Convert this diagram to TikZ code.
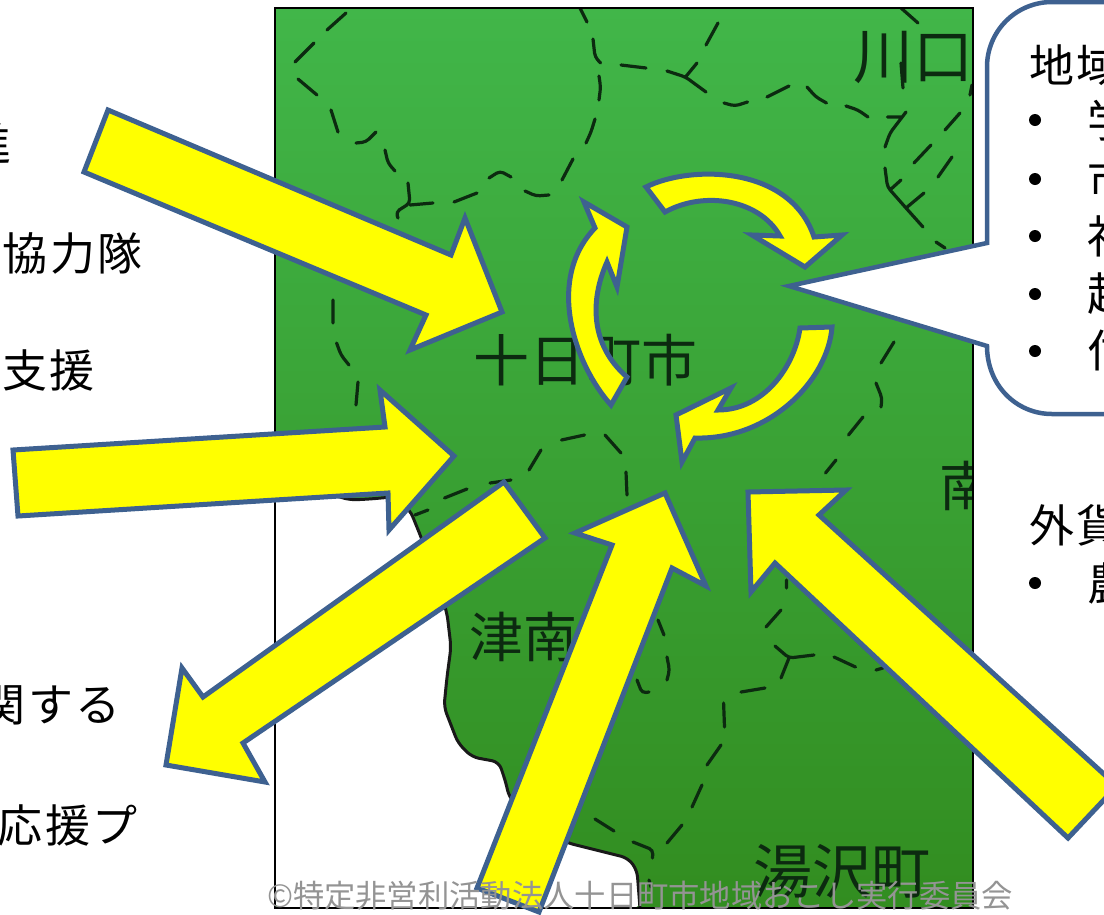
\documentclass[tikz,border=0pt]{standalone}
\usepackage{fontspec}
\setmainfont{Noto Sans CJK JP}
\newfontfamily\widejp[LetterSpace=6]{Noto Sans CJK JP}
\usepackage{xcolor}
\definecolor{maptop}{HTML}{41B649}
\definecolor{mapbot}{HTML}{328D20}
\definecolor{arrowedge}{HTML}{3E6190}
\definecolor{arrowfill}{RGB}{255,255,0}
\definecolor{mapink}{HTML}{0C2A10}
\tikzset{
x=1pt, y=-1pt,
txt/.style = {inner sep=0pt, text=black, font=\widejp\fontsize{45}{50}\selectfont},% black text
maplbl/.style = {inner sep=0pt, text=mapink},% place names on the map
bulletdot/.style = {circle, fill=black, inner sep=0pt, minimum size=12pt},
bigarrow/.style = {draw=arrowedge, fill=arrowfill, line width=5pt, miter limit=8},% yellow arrows
balloon/.style = {draw=arrowedge, fill=white, line width=4.5pt, miter limit=12},
citybound/.style = {draw=mapink, line width=3.2pt, line cap=round, rounded corners=4pt},
coast/.style = {draw=black!90, line width=3pt, line join=round, rounded corners=7pt}
}
\begin{document}
\begin{tikzpicture}
	\useasboundingbox (0,0) rectangle (1104,914);
	% the map
	\begin{scope}
		\clip (275,8) rectangle (973,908);
		\shade[top color=maptop, bottom color=mapbot] (275,8) rectangle (973,908);
		\fill[white, rounded corners=7pt] (275,492) -- (330,494) -- (350,500) -- (370,499) -- (392,497) -- (410,510) -- (421,537) -- (436,580) -- (447,613) -- (451,647) -- (447,677) -- (444,707) -- (458,743) -- (472,757) -- (499,762) -- (506,783) -- (509,797) -- (540,830) -- (568,843) -- (628,858) -- (637,870) -- (640,908) -- (275,908) -- cycle;
		\draw[coast] (330,494) -- (350,500) -- (370,499) -- (392,497) -- (410,510) -- (421,537) -- (436,580) -- (447,613) -- (451,647) -- (447,677) -- (444,707) -- (458,743) -- (472,757) -- (499,762) -- (506,783) -- (509,797) -- (540,830) -- (568,843) -- (628,858) -- (637,870) -- (640,908);
		\node[maplbl, font=\fontsize{56}{60}\selectfont] (tokamachi) at (585,360) {十日町市};
		\node[maplbl, font=\fontsize{60}{60}\selectfont] (kawaguchi) at (913,57) {川口};
		\node[maplbl, font=\fontsize{54}{60}\selectfont] (minami) at (966,486) {南};
		\node[maplbl, font=\fontsize{54}{60}\selectfont] (tsunan) at (523,637) {津南};
		\node[maplbl, font=\fontsize{59}{60}\selectfont] (yuzawa) at (842,871) {湯沢町};
		% dashed boundaries, top part
		\draw[citybound] (327,30) -- (346,13) (295,62) -- (314,43) (298,79) -- (317,95) (331,110) -- (338,132)
			(356,143) -- (366,142) -- (376,132) (385,150) -- (388,163) -- (395,171)
			(408,183) -- (410,203) -- (396,212) -- (398,218) (410,205) -- (433,203)
			(454,202) -- (477,193) (489,178) -- (500,171) -- (511,177) (525,191) -- (536,196) -- (549,195)
			(562,180) -- (573,159) (586,143) -- (591,132) -- (595,119) (599,100) -- (600.6,87) -- (599,76)
			(593,39) -- (595,57) -- (600.6,63) (580,8) -- (587,22) (621,65) -- (646,68)
			(667,71) -- (685.5,77) -- (706,92) (685.5,77) -- (697,63) (706,45) -- (718,23)
			(724,103) -- (735,106) -- (747.5,102) (767,97) -- (789,86) (807,87) -- (816,97) -- (826.5,103)
			(846,106) -- (858,110) -- (868,117) (885,147) -- (890,133) -- (906,112) (887.5,117) -- (901,117)
			(945,130) -- (960,113) (914,163) -- (931,145) (938,177) -- (952,157)
			(885,168) -- (887.5,187) -- (906,208) -- (923,227) (890,190) -- (901,180) (906,208) -- (924,193)
			(936,242) -- (945,248) (970,95) -- (972,85) (901,63) -- (903,88) (901,8) -- (918,23);
		% dashed boundaries, middle part
		\draw[citybound] (881,363) -- (894,342) (876,383) -- (882,398) -- (881,407) (848.5,435) -- (863,417) (825.5,473) -- (836,460)
			(333,300) -- (333,323) (336.6,343) -- (341,355) -- (349,365) (358,382) -- (356,405)
			(561.5,440) -- (584.5,435) (605,435) -- (621,453) (541,450) -- (529,470) (626,472) -- (627,495)
			(490,483) -- (511,480) (444.5,498) -- (467,489) (415,515) -- (428,510);
		% dashed boundaries, lower part
		\draw[citybound] (786.5,580) -- (786.5,588) (766,627) -- (781,610) (775,646) -- (789,658) -- (814,655) (789,658) -- (781,678)
			(834,657) -- (855.5,667) (876,670) -- (883,668) (741,692) -- (765,688) (723.6,703) -- (724.5,727)
			(721,745) -- (707,765) (702,785) -- (692,807) (682,825) -- (667,843)
			(633,842) -- (653,850) -- (652.5,858) (614,831) -- (595,819) (658,620) -- (664,635)
			(667,657) -- (669.5,670) -- (667,680) (637,680) -- (642,693) -- (649,692) (649,880) -- (651,887);
	\end{scope}
	\draw[black, line width=1.6pt] (275,8) rectangle (973,908);
	% left column
	\node[txt, anchor=east] (suishin) at (12,143) {進};
	\node[txt, anchor=east] (kyoryoku) at (143,253) {協力隊};
	\node[txt, anchor=east] (shien) at (95,370) {支援};
	\node[txt, anchor=east] (kansuru) at (121,705) {関する};
	\node[txt, anchor=east] (oen) at (138,825) {応援プ};
	% big arrows
	\draw[bigarrow] (108,110) -- (451,255) -- (465,218) -- (502,312) -- (410,350) -- (426,315) -- (84,172) -- cycle;
	\draw[bigarrow] (13,450) -- (385,427) -- (380,390) -- (454,456) -- (389,530) -- (388,493) -- (18,516) -- cycle;
	\draw[bigarrow] (504,482) -- (545,538) -- (243,743) -- (265,782) -- (166,765) -- (182,668) -- (203,697) -- cycle;
	\draw[bigarrow] (665,493) -- (706,586) -- (672,568) -- (539,912) -- (477,888) -- (612,545) -- (575,533) -- cycle;
	\draw[bigarrow] (748,492) -- (846,490) -- (819,515) -- (1117,786) -- (1068,838) -- (775,563) -- (751,592) -- cycle;
	% circular arrows
	\draw[bigarrow] (646,187) .. controls (690,165) and (790,165) .. (814,237) -- (842,235) -- (805,267) -- (752,235) -- (780,236) .. controls (760,200) and (705,190) .. (665,212) -- cycle;
	\draw[bigarrow] (584,202) -- (627,227) -- (617,287) -- (607,262) .. controls (590,300) and (590,345) .. (627,377) -- (611,405) .. controls (575,365) and (545,280) .. (595,228) -- cycle;
	\draw[bigarrow] (800,328) -- (832,327) .. controls (828,380) and (770,440) .. (695,438) -- (682,462) -- (676,415) -- (731,388) -- (718,410) .. controls (765,410) and (795,365) .. (800,328) -- cycle;
	% speech balloon
	\draw[balloon] (1140,2) -- (1052,2) .. controls (1016,2) and (987,31) .. (987,67) -- (987,243) -- (789,286) -- (987,346) .. controls (987,385) and (1016,414) .. (1052,414) -- (1140,414);
	\node[txt, anchor=west] (chiiki) at (1029,65) {地域};
	\node[bulletdot] (dot1) at (1035,120) {};
	\node[bulletdot] (dot2) at (1035,179) {};
	\node[bulletdot] (dot3) at (1035,236) {};
	\node[bulletdot] (dot4) at (1035,294) {};
	\node[bulletdot] (dot5) at (1035,351) {};
	\node[txt, anchor=west] (item1) at (1087,120) {学};
	\node[txt, anchor=west] (item2) at (1087,179) {市};
	\node[txt, anchor=west] (item3) at (1087,236) {社};
	\node[txt, anchor=west] (item4) at (1087,294) {起};
	\node[txt, anchor=west] (item5) at (1087,351) {付};
	\node[txt, anchor=west] (gaika) at (1029,525) {外貨};
	\node[bulletdot] (dot6) at (1035,583) {};
	\node[txt, anchor=west] (item6) at (1087,583) {農};
	% credit line
	\node[inner sep=0pt, text=black!42, font=\fontsize{31.3}{33}\selectfont] (credit) at (640,896) {©特定非営利活動法人十日町市地域おこし実行委員会};
\end{tikzpicture}
\end{document}
